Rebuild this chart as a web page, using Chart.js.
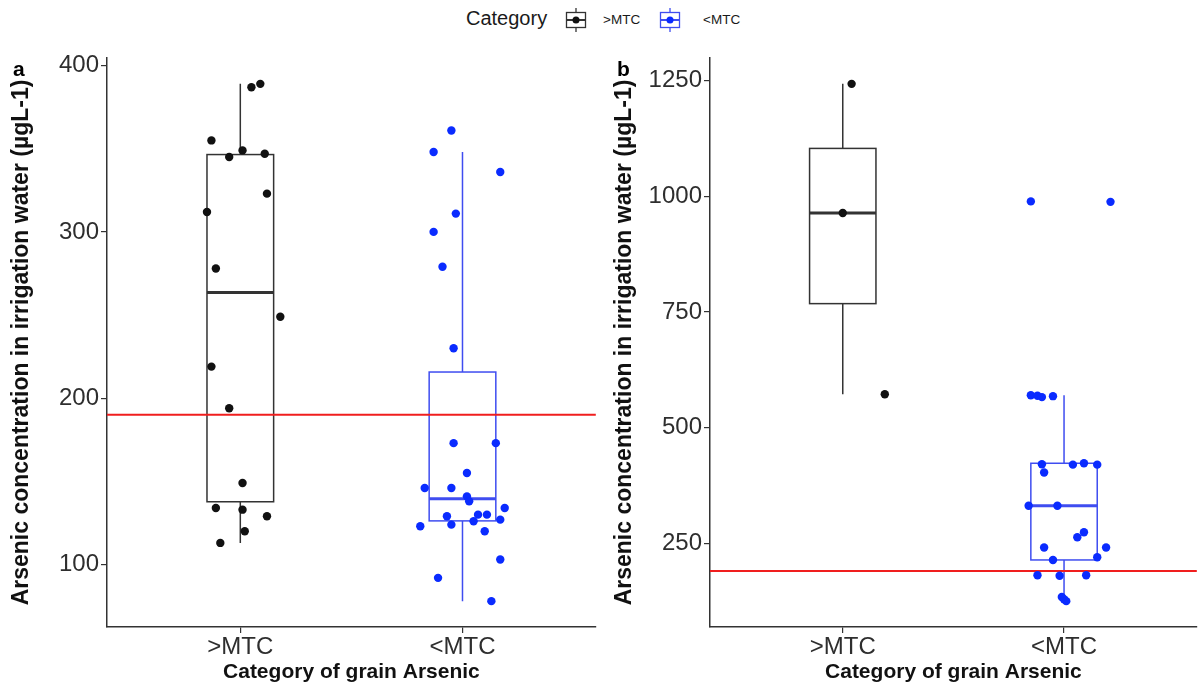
<!DOCTYPE html>
<html>
<head>
<meta charset="utf-8">
<script src="https://cdn.jsdelivr.net/npm/chart.js@4.4.1/dist/chart.umd.min.js"></script>
<style>
body{margin:0;background:#fff;width:1201px;height:688px;position:relative;overflow:hidden;font-family:"Liberation Sans",Arial,sans-serif}
#legend span{position:absolute;white-space:nowrap;color:#1a1a1a}
#legend svg{position:absolute}
canvas{position:absolute;top:40px}
#chart-a{left:0}
#chart-b{left:600px}
</style>
</head>
<body>
<div id="legend">
  <span style="left:466px;top:7px;font-size:20px">Category</span>
  <svg style="left:565px;top:8px" width="22" height="24">
    <line x1="11" y1="0" x2="11" y2="24" stroke="#333" stroke-width="1.3"/>
    <rect x="1.5" y="4.5" width="19" height="15" fill="#fff" stroke="#333" stroke-width="1.3"/>
    <line x1="1.5" y1="12" x2="20.5" y2="12" stroke="#333" stroke-width="2"/>
    <circle cx="11" cy="12" r="3.5" fill="#111"/>
  </svg>
  <span style="left:603px;top:12px;font-size:13.5px">&gt;MTC</span>
  <svg style="left:659px;top:8px" width="22" height="24">
    <line x1="11" y1="0" x2="11" y2="24" stroke="#3f4df0" stroke-width="1.3"/>
    <rect x="1.5" y="4.5" width="19" height="15" fill="#fff" stroke="#3f4df0" stroke-width="1.3"/>
    <line x1="1.5" y1="12" x2="20.5" y2="12" stroke="#3f4df0" stroke-width="2"/>
    <circle cx="11" cy="12" r="3.5" fill="#0a2bff"/>
  </svg>
  <span style="left:703px;top:12px;font-size:13.5px">&lt;MTC</span>
</div>
<canvas id="chart-a" width="600" height="648"></canvas>
<canvas id="chart-b" width="601" height="648"></canvas>
<script>
const categories=['>MTC','<MTC'];
const threshold=190;

// panel a
const aHigh=[387,389,355,345,349,347,323,312,278,249,219,194,149,134,133,129,120,113];
const aHighJitter=[0.05,0.09,-0.13,-0.05,0.01,0.11,0.12,-0.15,-0.11,0.18,-0.13,-0.05,0.01,-0.11,0.01,0.12,0.02,-0.09];
const aLow=[361,348,336,311,300,279,230,173,173,155,146,146,141,138,134,129,130,130,127,123,124,126,120,103,92,78];
const aLowJitter=[-0.05,-0.13,0.17,-0.03,-0.13,-0.09,-0.04,-0.04,0.15,0.02,-0.17,-0.05,0.02,0.03,0.19,-0.07,0.07,0.11,0.17,-0.19,-0.05,0.05,0.1,0.17,-0.11,0.13];
const aTicks=[100,200,300,400];

// panel b
const bHigh=[1243,964,572];
const bHighJitter=[0.04,0,0.19];
const bLow=[989,988,570,569,566,568,421,420,423,420,403,331,331,274,263,241,241,220,214,181,180,181,134,129,125];
const bLowJitter=[-0.15,0.21,-0.15,-0.12,-0.1,-0.05,-0.1,0.04,0.09,0.15,-0.09,-0.16,-0.03,0.09,0.06,-0.09,0.19,0.15,-0.05,-0.12,-0.02,0.1,-0.01,0,0.01];
const bTicks=[250,500,750,1000,1250];

const boxHalf=0.15;
const colHigh={pt:'#111111',box:'#333333'};
const colLow={pt:'#0a2bff',box:'#3f4df0'};
const fontFam='"Liberation Sans", Arial, sans-serif';

function quant(s,p){
  const h=(s.length-1)*p, i=Math.floor(h);
  return i+1<s.length ? s[i]+(h-i)*(s[i+1]-s[i]) : s[i];
}
function boxStats(vals){
  const s=vals.slice().sort((a,b)=>a-b);
  const q1=quant(s,0.25),med=quant(s,0.5),q3=quant(s,0.75),iqr=q3-q1;
  const inside=s.filter(v=>v>=q1-1.5*iqr&&v<=q3+1.5*iqr);
  return {q1,med,q3,lo:inside[0],hi:inside[inside.length-1]};
}

const boxPlugin={
  id:'boxes',
  beforeDatasetsDraw(chart,args,opts){
    const {ctx,chartArea,scales:{x,y}}=chart;
    ctx.save();
    opts.groups.forEach((g,i)=>{
      const s=boxStats(g.values);
      const c=x.getPixelForValue(i+1),l=x.getPixelForValue(i+1-boxHalf),r=x.getPixelForValue(i+1+boxHalf);
      const y1=y.getPixelForValue(s.q1),y3=y.getPixelForValue(s.q3),ym=y.getPixelForValue(s.med);
      ctx.strokeStyle=g.color;ctx.lineWidth=1.5;
      ctx.beginPath();
      ctx.moveTo(c,y.getPixelForValue(s.hi));ctx.lineTo(c,y3);
      ctx.moveTo(c,y1);ctx.lineTo(c,y.getPixelForValue(s.lo));
      ctx.stroke();
      ctx.strokeRect(l,y3,r-l,y1-y3);
      ctx.lineWidth=3;
      ctx.beginPath();ctx.moveTo(l,ym);ctx.lineTo(r,ym);ctx.stroke();
    });
    const ty=y.getPixelForValue(threshold);
    ctx.strokeStyle='#f01e1e';ctx.lineWidth=2;
    ctx.beginPath();ctx.moveTo(chartArea.left,ty);ctx.lineTo(chartArea.right,ty);ctx.stroke();
    ctx.restore();
  },
  afterDraw(chart,args,opts){
    const ctx=chart.ctx;
    ctx.save();
    ctx.font='bold 21px '+fontFam;
    ctx.fillStyle='#000';ctx.textBaseline='middle';
    ctx.fillText(opts.letter,opts.letterX,30);
    ctx.restore();
  }
};

function makePanel(id,letter,letterX,high,highJit,low,lowJit,ticks,axisW,titlePad,rightPad){
  const all=high.concat(low);
  const lo=Math.min(...all),hi=Math.max(...all),pad=(hi-lo)*0.05;
  new Chart(document.getElementById(id),{
    type:'scatter',
    data:{datasets:[
      {data:high.map((v,i)=>({x:1+highJit[i],y:v})),backgroundColor:colHigh.pt,borderWidth:0,pointRadius:4.2},
      {data:low.map((v,i)=>({x:2+lowJit[i],y:v})),backgroundColor:colLow.pt,borderWidth:0,pointRadius:4.2}
    ]},
    options:{
      responsive:false,animation:false,
      layout:{padding:{top:18,right:rightPad,left:0,bottom:0}},
      plugins:{
        legend:{display:false},tooltip:{enabled:false},
        boxes:{letter,letterX,groups:[{values:high,color:colHigh.box},{values:low,color:colLow.box}]}
      },
      scales:{
        x:{
          type:'linear',min:0.4,max:2.6,
          afterBuildTicks:s=>{s.ticks=[1,2].map(v=>({value:v}));},
          afterFit:s=>{s.height=61;},
          ticks:{callback:v=>categories[v-1],color:'#2e2e2e',font:{size:24,family:fontFam},padding:0,maxRotation:0},
          grid:{drawOnChartArea:false,tickLength:6,color:'#333',lineWidth:1.2},
          border:{color:'#333',width:1.5},
          title:{display:true,text:'Category of grain Arsenic',color:'#111',font:{size:21,weight:'bold',family:fontFam},padding:{top:0,bottom:3}}
        },
        y:{
          min:lo-pad,max:hi+pad,
          afterBuildTicks:s=>{s.ticks=ticks.map(v=>({value:v}));},
          afterFit:s=>{s.width=axisW;},
          ticks:{callback:v=>String(v),color:'#2e2e2e',font:{size:24,family:fontFam},padding:2},
          grid:{drawOnChartArea:false,tickLength:6,color:'#333',lineWidth:1.2},
          border:{color:'#333',width:1.5},
          title:{display:true,text:'Arsenic concentration in irrigation water (µgL-1)',color:'#111',font:{size:23,weight:'bold',family:fontFam},padding:{top:titlePad,bottom:0}}
        }
      }
    },
    plugins:[boxPlugin]
  });
}

makePanel('chart-a','a',13,aHigh,aHighJitter,aLow,aLowJitter,aTicks,107,8,3);
makePanel('chart-b','b',17,bHigh,bHighJitter,bLow,bLowJitter,bTicks,110,11,4);
</script>
</body>
</html>
